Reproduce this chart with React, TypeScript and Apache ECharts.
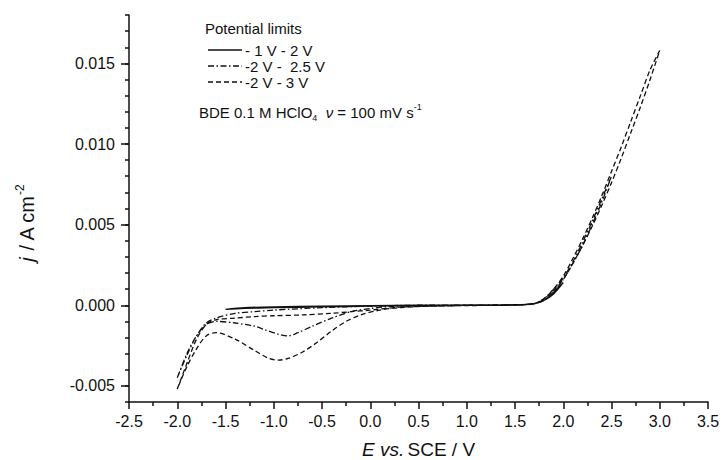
import React, { useEffect, useRef } from "react";
import * as echarts from "echarts";

// Cyclic voltammograms of BDE in 0.1 M HClO4 at 100 mV/s, three potential windows.

const FONT = "'Liberation Sans', Arial, sans-serif";

// Window -1.5 V .. 2.0 V (solid)
const potentialSolid = [-1.5, -1.3, -1.0, -0.5, 0.0, 0.5, 1.0, 1.5, 1.7, 1.8, 1.9, 2.0, 1.9, 1.8, 1.7, 1.5, 1.0, 0.5, 0.0, -0.5, -1.0, -1.3, -1.5];
const currentSolid = [-0.00025, -0.00015, -0.0001, -0.00006, -0.00003, 0.0, 0.00001, 0.00003, 0.0001, 0.0003, 0.0007, 0.0014, 0.0008, 0.0003, 0.0001, 0.00002, -0.00001, -0.00003, -0.00006, -0.0001, -0.00015, -0.0002, -0.00025];

// Window -2.0 V .. 2.5 V (dash-dot)
const potentialDashDot = [-2.0, -1.9, -1.8, -1.7, -1.6, -1.4, -1.2, -1.0, -0.5, 0.0, 0.5, 1.0, 1.5, 1.7, 1.8, 1.9, 2.0, 2.1, 2.2, 2.3, 2.4, 2.5, 2.4, 2.3, 2.2, 2.1, 2.0, 1.9, 1.8, 1.7, 1.5, 1.0, 0.5, 0.2, 0.0, -0.2, -0.4, -0.6, -0.75, -0.85, -0.95, -1.1, -1.2, -1.4, -1.6, -1.7, -1.8, -1.9, -2.0];
const currentDashDot = [-0.0045, -0.0031, -0.0019, -0.0011, -0.0008, -0.0005, -0.0004, -0.0003, -0.00015, -0.00005, 0.0, 0.00001, 0.00003, 0.0001, 0.0004, 0.001, 0.0017, 0.0027, 0.0039, 0.0052, 0.0066, 0.008, 0.0064, 0.005, 0.0037, 0.0026, 0.0016, 0.0008, 0.0003, 0.0001, 0.00001, -0.00001, -0.00003, -0.00008, -0.0002, -0.0004, -0.0008, -0.0013, -0.0017, -0.0019, -0.0018, -0.0015, -0.0013, -0.0011, -0.001, -0.0012, -0.0019, -0.003, -0.0045];

// Window -2.0 V .. 3.0 V (dashed)
const potentialDashed = [-2.0, -1.9, -1.8, -1.7, -1.6, -1.4, -1.2, -1.0, -0.7, -0.4, -0.2, 0.0, 0.3, 0.6, 1.0, 1.5, 1.7, 1.8, 1.9, 2.0, 2.1, 2.2, 2.3, 2.4, 2.5, 2.6, 2.7, 2.8, 2.9, 3.0, 2.9, 2.8, 2.7, 2.6, 2.5, 2.4, 2.3, 2.2, 2.1, 2.0, 1.9, 1.8, 1.7, 1.5, 1.0, 0.6, 0.3, 0.1, -0.1, -0.25, -0.4, -0.55, -0.7, -0.85, -0.95, -1.05, -1.2, -1.4, -1.6, -1.7, -1.8, -1.9, -2.0];
const currentDashed = [-0.0052, -0.0036, -0.0021, -0.0012, -0.0009, -0.0008, -0.0007, -0.00065, -0.0006, -0.0005, -0.0004, -0.0003, -0.00012, -0.00005, 0.0, 0.00003, 0.0001, 0.0004, 0.0009, 0.0016, 0.0026, 0.0037, 0.0049, 0.0062, 0.0076, 0.0091, 0.0107, 0.0123, 0.014, 0.0158, 0.0146, 0.013, 0.0114, 0.0098, 0.0083, 0.0068, 0.0054, 0.0041, 0.0029, 0.0018, 0.001, 0.0004, 0.0001, 0.00001, -0.00002, -0.00006, -0.00015, -0.0003, -0.0006, -0.001, -0.0016, -0.0023, -0.0029, -0.0033, -0.0034, -0.0033, -0.0028, -0.0021, -0.0017, -0.0019, -0.0027, -0.0038, -0.0052];

const seriesNames = ["- 1 V - 2 V", "-2 V -  2.5 V", "-2 V - 3 V"];
const yMajorTicks = [-0.005, 0.0, 0.005, 0.01, 0.015];

const SOLID: number[] | null = null;
const DASH_DOT = [6, 2.5, 1.5, 2.5];
const DASHED = [5, 3];
const lineDashes = [SOLID, DASH_DOT, DASHED];

const zip = (xs: number[], ys: number[]) => xs.map((x, i) => [x, ys[i]]);

export default function App() {
  const ref = useRef<HTMLDivElement>(null);

  useEffect(() => {
    if (!ref.current) return;
    const chart = echarts.init(ref.current, null, { renderer: "svg" });
    const ink = "#111";
    const lineBase = { color: ink, width: 1.3 };

    // Key: a short line sample followed by its label, one row per window.
    const keyRows: any[] = [];
    seriesNames.forEach((name, i) => {
      const y = 50 + i * 16;
      keyRows.push({
        type: "line",
        shape: { x1: 208, y1: y, x2: 242, y2: y },
        style: { stroke: ink, lineWidth: 1.3, lineDash: lineDashes[i] || undefined },
      });
      keyRows.push({
        type: "text",
        x: 245,
        y: y,
        style: { text: name, fontFamily: FONT, fontSize: 15, fill: ink, verticalAlign: "middle" },
      });
    });

    chart.setOption({
      animation: false,
      backgroundColor: "#ffffff",
      textStyle: { fontFamily: FONT, color: ink },
      grid: { left: 129, right: 13, top: 15, bottom: 58, containLabel: false, outerBoundsMode: "none" },
      xAxis: {
        type: "value",
        min: -2.5,
        max: 3.5,
        interval: 0.5,
        name: "{it|E vs.} {t|SCE / V}",
        nameLocation: "middle",
        nameGap: 37,
        nameTextStyle: {
          lineHeight: 20,
          rich: {
            it: { fontFamily: FONT, fontSize: 19, fontStyle: "italic", color: ink, lineHeight: 20 },
            t: { fontFamily: FONT, fontSize: 19, color: ink, lineHeight: 20 },
          },
        },
        axisLine: { onZero: false, lineStyle: { color: ink, width: 1.5 } },
        axisTick: { length: 7, lineStyle: { color: ink, width: 1.5 } },
        minorTick: { show: true, splitNumber: 2, length: 4, lineStyle: { color: ink, width: 1.5 } },
        axisLabel: {
          margin: 11,
          fontFamily: FONT,
          fontSize: 16,
          color: ink,
          formatter: (v: number) => v.toFixed(1),
        },
        splitLine: { show: false },
        minorSplitLine: { show: false },
      },
      yAxis: [
        {
          type: "value",
          min: -0.006,
          max: 0.018,
          position: "left",
          axisLine: { onZero: false, lineStyle: { color: ink, width: 1.5 } },
          axisTick: { length: 8, customValues: yMajorTicks, lineStyle: { color: ink, width: 1.5 } },
          axisLabel: {
            margin: 14,
            fontFamily: FONT,
            fontSize: 16,
            color: ink,
            customValues: yMajorTicks,
            formatter: (v: number) => v.toFixed(3),
          },
          splitLine: { show: false },
        },
        {
          // minor ticks every 0.001 on the same left edge
          type: "value",
          min: -0.006,
          max: 0.018,
          interval: 0.001,
          position: "left",
          offset: 0,
          axisLine: { show: false, onZero: false },
          axisTick: { length: 4, lineStyle: { color: ink, width: 1.5 } },
          axisLabel: { show: false },
          splitLine: { show: false },
        },
      ],
      graphic: [
        {
          // y-axis title, rotated
          type: "text",
          x: 27,
          y: 223,
          rotation: Math.PI / 2,
          style: {
            text: "{it|j}{t| / A cm}{sup|-2}",
            align: "center",
            verticalAlign: "middle",
            rich: {
              it: { fontFamily: FONT, fontSize: 20, fontStyle: "italic", fill: ink, lineHeight: 26, verticalAlign: "middle" },
              t: { fontFamily: FONT, fontSize: 20, fill: ink, lineHeight: 26, verticalAlign: "middle" },
              sup: { fontFamily: FONT, fontSize: 12, fill: ink, lineHeight: 26, verticalAlign: "top" },
            },
          },
        },
        {
          type: "text",
          left: 205,
          top: 21,
          style: { text: "Potential limits", fontFamily: FONT, fontSize: 15, fill: ink },
        },
        ...keyRows,
        {
          type: "text",
          left: 199,
          top: 102,
          style: {
            text: "{t|BDE 0.1 M HClO}{sub|4}{t|  }{it|ν}{t| = 100 mV s}{sup|-1}",
            rich: {
              t: { fontFamily: FONT, fontSize: 15, fill: ink, lineHeight: 20, verticalAlign: "middle" },
              it: { fontFamily: FONT, fontSize: 15, fontStyle: "italic", fill: ink, lineHeight: 20, verticalAlign: "middle" },
              sub: { fontFamily: FONT, fontSize: 9, fill: ink, verticalAlign: "bottom", lineHeight: 20 },
              sup: { fontFamily: FONT, fontSize: 9, fill: ink, verticalAlign: "top", lineHeight: 20 },
            },
          },
        },
      ],
      series: [
        {
          name: seriesNames[0],
          type: "line",
          symbol: "none",
          smooth: 0.3,
          data: zip(potentialSolid, currentSolid),
          lineStyle: { ...lineBase, type: "solid" },
        },
        {
          name: seriesNames[1],
          type: "line",
          symbol: "none",
          smooth: 0.3,
          data: zip(potentialDashDot, currentDashDot),
          lineStyle: { ...lineBase, type: DASH_DOT },
        },
        {
          name: seriesNames[2],
          type: "line",
          symbol: "none",
          smooth: 0.3,
          data: zip(potentialDashed, currentDashed),
          lineStyle: { ...lineBase, type: DASHED },
        },
      ],
    });

    return () => chart.dispose();
  }, []);

  return <div ref={ref} style={{ width: 721, height: 460, position: "absolute", left: 0, top: 0 }} />;
}
